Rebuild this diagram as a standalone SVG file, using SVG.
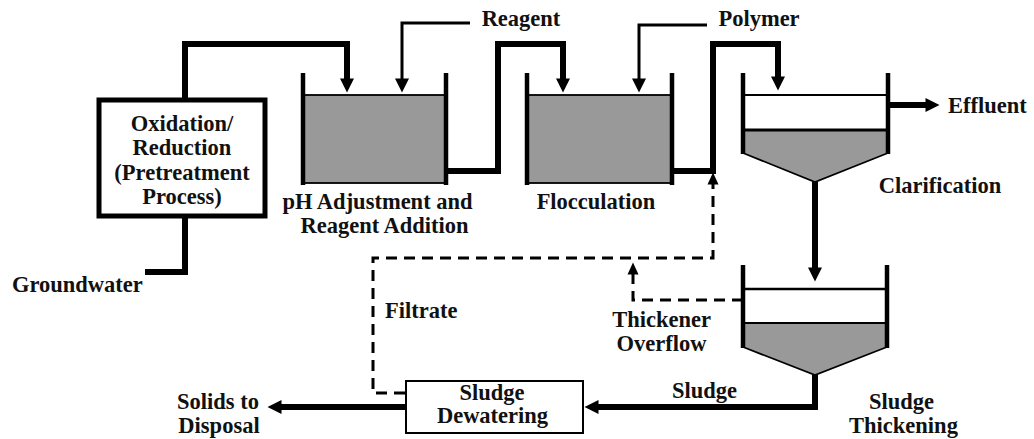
<svg xmlns="http://www.w3.org/2000/svg" width="1034" height="439" viewBox="0 0 1034 439">
<style>
.t{font-family:"Liberation Serif","Times New Roman",serif;font-weight:bold;font-size:22.5px;fill:#111;text-anchor:middle}
.s{text-anchor:start}
.pipe{fill:none;stroke:#000;stroke-width:6;stroke-linejoin:miter}
.feed{fill:none;stroke:#000;stroke-width:3}
.dash{fill:none;stroke:#000;stroke-width:3;stroke-dasharray:11 7}
.wall{stroke:#000;stroke-width:4.5;fill:none}
.liq{fill:#999;stroke:#000;stroke-width:1.8}
.thin{stroke:#000;stroke-width:1.8;fill:none}
</style>
<defs>
<marker id="ah" markerUnits="userSpaceOnUse" markerWidth="15" markerHeight="15" refX="0.5" refY="7" orient="auto" overflow="visible">
<path d="M0,0 L14,7 L0,14 z" fill="#000"/>
</marker>
<marker id="ahs" markerUnits="userSpaceOnUse" markerWidth="12" markerHeight="12" refX="0.5" refY="5.5" orient="auto" overflow="visible">
<path d="M0,0 L12,5.5 L0,11 z" fill="#000"/>
</marker>
</defs>

<g id="oxidation">
<rect x="99" y="100" width="166" height="116" fill="#fff" stroke="#000" stroke-width="5"/>
<text class="t" x="182" y="131">Oxidation/</text>
<text class="t" x="182" y="155">Reduction</text>
<text class="t" x="182" y="180">(Pretreatment</text>
<text class="t" x="182" y="204">Process)</text>
</g>

<g id="ph-tank">
<rect class="liq" x="303" y="95" width="143" height="88"/>
<line class="wall" x1="303" y1="73" x2="303" y2="185"/>
<line class="wall" x1="446" y1="73" x2="446" y2="185"/>
<text class="t" x="377.5" y="209">pH Adjustment and</text>
<text class="t" x="384.5" y="233">Reagent Addition</text>
</g>

<g id="floc-tank">
<rect class="liq" x="527" y="95" width="145" height="88"/>
<line class="wall" x1="527" y1="73" x2="527" y2="185"/>
<line class="wall" x1="672" y1="73" x2="672" y2="185"/>
<text class="t" x="596" y="209">Flocculation</text>
</g>

<g id="clarifier">
<path class="liq" d="M743,130 H888 V153 L815,182 L743,153 Z"/>
<line class="thin" x1="743" y1="95" x2="888" y2="95"/>
<line stroke="#000" stroke-width="3" x1="743" y1="130" x2="888" y2="130"/>
<line class="wall" x1="743" y1="73" x2="743" y2="154"/>
<line class="wall" x1="888" y1="73" x2="888" y2="154"/>
<text class="t" x="940" y="193">Clarification</text>
</g>

<g id="thickener">
<path class="liq" d="M743,323 H887 V347 L815,375 L743,347 Z"/>
<line stroke="#000" stroke-width="2.5" x1="743" y1="289" x2="887" y2="289"/>
<line class="wall" x1="743" y1="265" x2="743" y2="348"/>
<line class="wall" x1="887" y1="265" x2="887" y2="348"/>
<text class="t" x="901.5" y="409">Sludge</text>
<text class="t" x="903.5" y="433">Thickening</text>
</g>

<g id="dewatering">
<rect x="406" y="381" width="177" height="52" fill="#fff" stroke="#000" stroke-width="2"/>
<text class="t" x="492" y="400">Sludge</text>
<text class="t" x="492.5" y="423">Dewatering</text>
</g>

<g id="connectors">
<path class="pipe" d="M185,100 V44 H347 V79" marker-end="url(#ah)"/>
<path class="pipe" d="M185,216 V272 H145"/>
<path class="feed" d="M470,23 H402 V79" marker-end="url(#ah)"/>
<path class="feed" d="M707,25 H639 V79" marker-end="url(#ah)"/>
<path class="pipe" d="M446,171 H498 V44 H563 V79" marker-end="url(#ah)"/>
<path class="pipe" d="M672,171 H713 V44 H778 V77" marker-end="url(#ah)"/>
<path class="pipe" d="M815,182 V268" marker-end="url(#ah)"/>
<path class="pipe" stroke-width="4.5" d="M888,105 H926" marker-end="url(#ah)"/>
<path class="pipe" d="M815,375 V407 H598" marker-end="url(#ah)"/>
<path class="pipe" d="M406,407 H281" marker-end="url(#ah)"/>
<path class="dash" d="M405,393 H373 V258 H713 V184" marker-end="url(#ahs)"/>
<path class="dash" d="M743,300 H633 V274" marker-end="url(#ahs)"/>
</g>

<g id="labels">
<text class="t s" x="12" y="292">Groundwater</text>
<text class="t" x="521" y="26">Reagent</text>
<text class="t" x="759" y="26">Polymer</text>
<text class="t s" x="948" y="113">Effluent</text>
<text class="t s" x="385" y="318">Filtrate</text>
<text class="t" x="661.5" y="327">Thickener</text>
<text class="t" x="661.5" y="351">Overflow</text>
<text class="t" x="704.5" y="398">Sludge</text>
<text class="t" x="218" y="409">Solids to</text>
<text class="t" x="219" y="433">Disposal</text>
</g>
</svg>
